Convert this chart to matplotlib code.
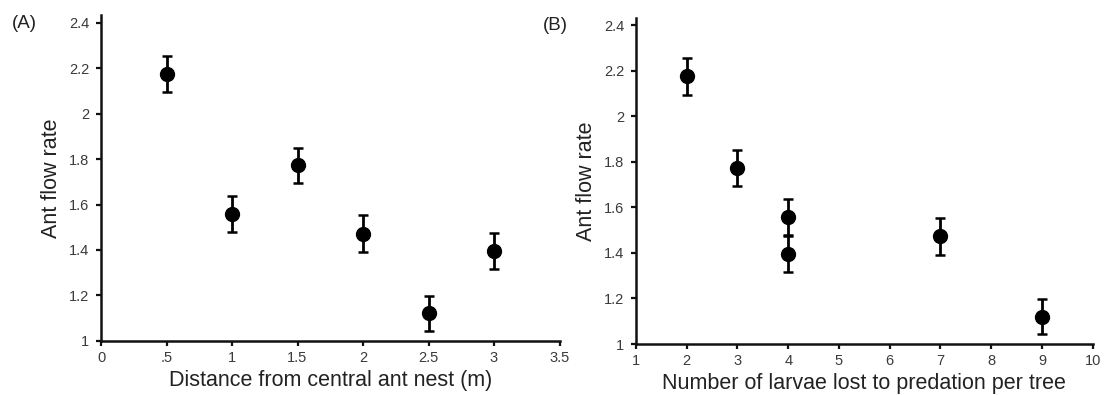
import matplotlib
matplotlib.use("Agg")
import matplotlib.pyplot as plt

plt.rcParams['font.family'] = ['Liberation Sans', 'DejaVu Sans']

# Mean ant flow rate (± SE) at six trees
distance_m = [0.5, 1.0, 1.5, 2.0, 2.5, 3.0]
larvae_lost = [2, 4, 3, 7, 9, 4]
flow_rate = [2.175, 1.557, 1.772, 1.472, 1.120, 1.396]
flow_err = [0.080, 0.080, 0.078, 0.080, 0.078, 0.079]

xticks_a = [0, 0.5, 1, 1.5, 2, 2.5, 3, 3.5]
xticklabels_a = ['0', '.5', '1', '1.5', '2', '2.5', '3', '3.5']
xticks_b = list(range(1, 11))
yticks = [1, 1.2, 1.4, 1.6, 1.8, 2, 2.2, 2.4]
yticklabels = ['1', '1.2', '1.4', '1.6', '1.8', '2', '2.2', '2.4']

W, H = 1105, 395
fig = plt.figure(figsize=(W / 100, H / 100), dpi=100)


def px_axes(left, right, top, bottom):
    return fig.add_axes([left / W, 1 - bottom / H, (right - left) / W, (bottom - top) / H])


ax_a = px_axes(101, 559.5, 15, 340.7)
ax_b = px_axes(636, 1092.7, 18, 344)

panels = [
    (ax_a, distance_m, xticks_a, xticklabels_a, (0, 3.5), 2.435,
     'Distance from central ant nest (m)'),
    (ax_b, larvae_lost, xticks_b, [str(t) for t in xticks_b], (1, 10), 2.431,
     'Number of larvae lost to predation per tree'),
]

for ax, xs, xt, xtl, xlim, ytop, xlabel in panels:
    ax.errorbar(xs, flow_rate, yerr=flow_err, fmt='o', color='black',
                markersize=10, elinewidth=2, capsize=3.6, capthick=1.8,
                clip_on=False, zorder=3)
    ax.set_xlim(*xlim)
    ax.set_ylim(1, ytop)
    ax.set_xticks(xt)
    ax.set_xticklabels(xtl)
    ax.set_yticks(yticks)
    ax.set_yticklabels(yticklabels)
    for side in ('top', 'right'):
        ax.spines[side].set_visible(False)
    for side in ('left', 'bottom'):
        ax.spines[side].set_linewidth(1.8)
        ax.spines[side].set_color('#111111')
    ax.tick_params(axis='both', direction='out', length=3.6, width=1.6,
                   color='#111111', labelsize=10.5, labelcolor='#3a3a3a')
    ax.tick_params(axis='y', pad=5)
    ax.tick_params(axis='x', pad=3.5)
    ax.set_xlabel(xlabel, fontsize=15.5, color='#222222', labelpad=4)
    ax.set_ylabel('Ant flow rate', fontsize=15.5, color='#222222', labelpad=5)

fig.text(12 / W, 1 - 23 / H, '(A)', fontsize=13.5, va='center', ha='left', color='#222222')
fig.text(543 / W, 1 - 25 / H, '(B)', fontsize=13.5, va='center', ha='left', color='#222222')

fig.savefig('out.png', dpi=100, facecolor='white')
